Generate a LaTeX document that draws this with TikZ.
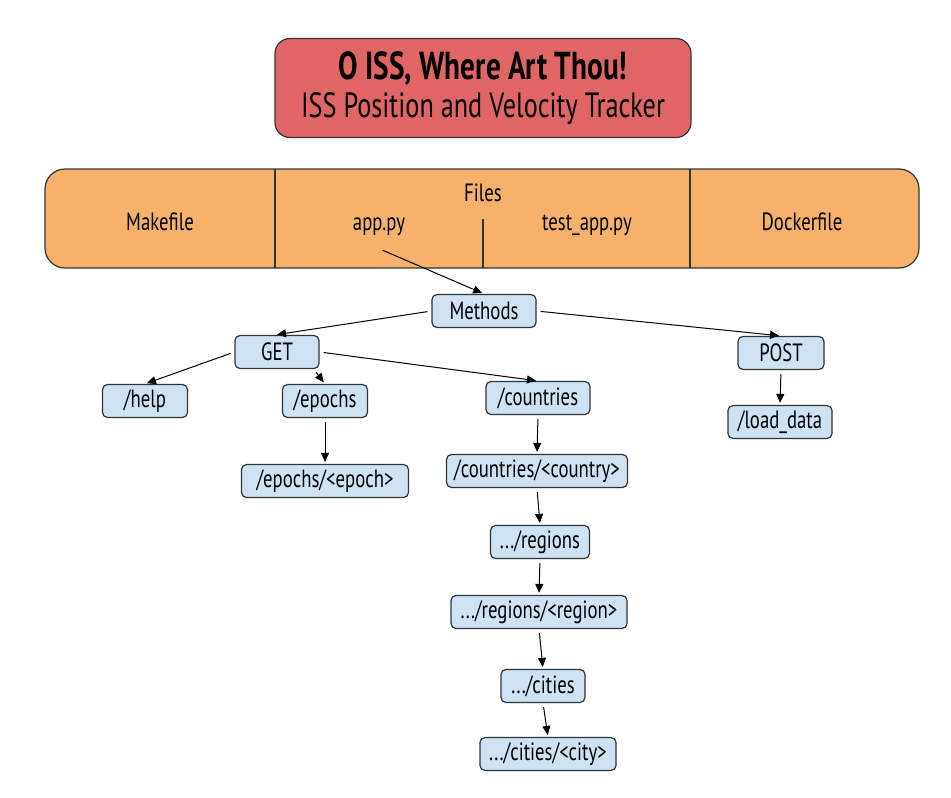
\documentclass[tikz,border=0pt]{standalone}
\usepackage{fontspec}
\setmainfont{PT Sans}[FakeStretch=0.75]
\usetikzlibrary{arrows.meta}
\definecolor{titlered}{HTML}{E06666}
\definecolor{fileorange}{HTML}{F6B26B}
\definecolor{routeblue}{HTML}{CFE2F3}
\definecolor{edgegrey}{HTML}{333333}
\tikzset{
  route/.style={draw=edgegrey, line width=1.2pt, fill=routeblue, rounded corners=5pt,
    minimum height=33pt, inner xsep=2pt, font=\fontsize{25}{27}\selectfont},
  label/.style={anchor=base, font=\fontsize{25}{27}\selectfont},
  arr/.style={-{Triangle[length=9pt,width=8pt]}, line width=1pt, shorten >=2pt, shorten <=4pt}
}
\begin{document}
\begin{tikzpicture}[x=1pt, y=-1pt]
\useasboundingbox[fill=white] (0,0) rectangle (951,798);
% title
\node[draw=edgegrey, line width=1.2pt, fill=titlered, rounded corners=15pt,
  minimum width=416pt, minimum height=99pt, align=center] (title) at (483,88)
  {{\fontsize{39}{42}\selectfont\bfseries O ISS, Where Art Thou!}\\[6pt]
   {\fontsize{35}{40}\selectfont ISS Position and Velocity Tracker}};
% files
\node[draw=edgegrey, line width=1.2pt, fill=fileorange, rounded corners=20pt,
  minimum width=874pt, minimum height=99pt] (files) at (482,218.5) {};
\draw[line width=1.2pt, edgegrey] (275,169) -- (275,268);
\draw[line width=1.2pt, edgegrey] (690,169) -- (690,268);
\draw[line width=1.2pt, edgegrey] (483,219) -- (483,268);
\node[label] (make) at (160,230) {Makefile};
\node[label] (filehead) at (483,201) {Files};
\node[label] (app) at (379,230) {app.py};
\node[label] (test) at (587,230) {test\_app.py};
\node[label] (docker) at (802,230) {Dockerfile};
% methods
\node[route, minimum width=104pt] (methods) at (484,311) {Methods};
\node[route, minimum width=84pt] (get) at (277,352) {GET};
\node[route, minimum width=86pt] (post) at (781,353) {POST};
\node[route, minimum width=85pt] (help) at (145,401) {/help};
\node[route, minimum width=85pt] (epochs) at (325,401) {/epochs};
\node[route, minimum width=167pt] (epoch) at (325,481) {/epochs/<epoch>};
\node[route, minimum width=104pt] (countries) at (538,398) {/countries};
\node[route, minimum width=181pt] (country) at (537,471) {/countries/<country>};
\node[route, minimum width=99pt] (regions) at (540,542) {.../regions};
\node[route, minimum width=176pt] (region) at (539,612) {.../regions/<region>};
\node[route, minimum width=84pt] (cities) at (543,686) {.../cities};
\node[route, minimum width=136pt] (city) at (548,754) {.../cities/<city>};
\node[route, minimum width=104pt] (load) at (780,422) {/load\_data};
\draw[arr] ([yshift=-10pt]app.south) -- (methods.north);
\draw[arr] (methods.west) -- ([xshift=-2pt]get.north);
\draw[arr] (methods.east) -- (post.north);
\draw[arr] (get.west) -- (help.north);
\draw[arr] ([xshift=-6pt]get.south east) -- (epochs.north);
\draw[arr] (get.east) -- (countries.north);
\draw[arr] (epochs.south) -- (epoch.north);
\draw[arr] (post.south) -- (load.north);
\draw[arr] (countries.south) -- (country.north);
\draw[arr] (country.south) -- (regions.north);
\draw[arr] (regions.south) -- (region.north);
\draw[arr] (region.south) -- (cities.north);
\draw[arr] (cities.south) -- (city.north);
\end{tikzpicture}
\end{document}
